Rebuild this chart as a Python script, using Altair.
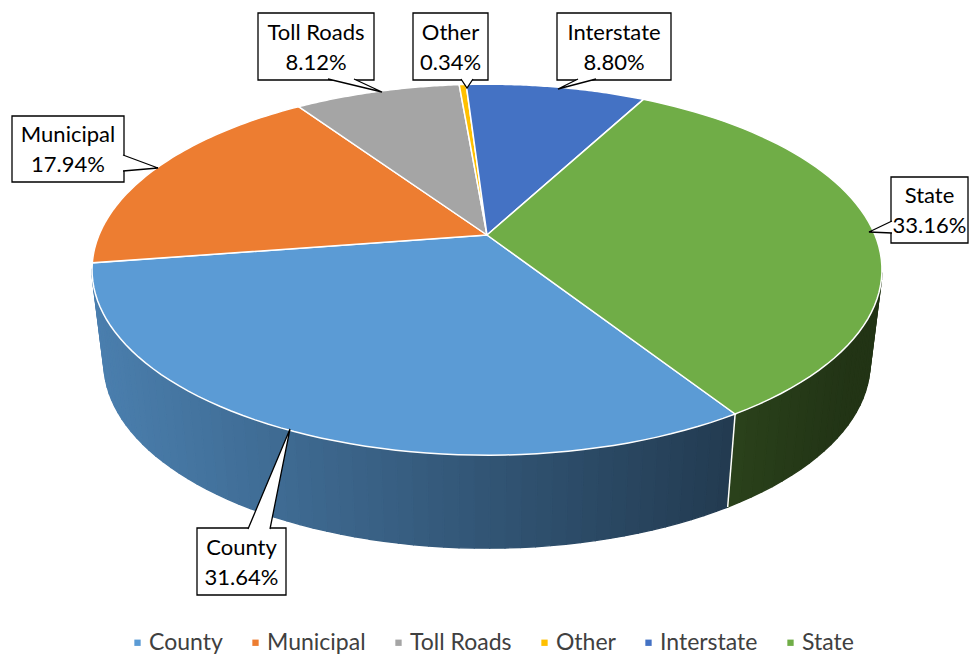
import math
import altair as alt
import pandas as pd

# ---- data ----
categories = ["County", "Municipal", "Toll Roads", "Other", "Interstate", "State"]
shares = [31.64, 17.94, 8.12, 0.34, 8.80, 33.16]

# ---- styling ----
colors = ["#5B9BD5", "#ED7D31", "#A5A5A5", "#FFC000", "#4472C4", "#70AD47"]
FONT = "Lato"

# ---- pie geometry (screen pixels) ----
CX, CY, RX, RY, PERSP = 487, 235, 388, 179, 0.187
DEPTH, BOTTOM_K = 93, 0.97
START_DEG = 147.4          # first slice starts here, clockwise from 12 o'clock
N = 60                     # arc subdivisions per slice

# callout layout: box (x0, x1, y0, y1), pointer base points and tip
callouts = {
    "Toll Roads": dict(box=(258, 374, 13, 80), p=[(328, 79), (382, 92), (354, 79)]),
    "Other":      dict(box=(413, 488, 13, 80), p=[(461, 79), (467, 88), (473, 79)]),
    "Interstate": dict(box=(557, 671, 13, 80), p=[(578, 79), (558, 89), (596, 79)]),
    "Municipal":  dict(box=(12, 124, 116, 182), p=[(123, 155), (158, 168), (123, 171)]),
    "State":      dict(box=(891, 968, 177, 243), p=[(892, 221), (869, 232), (892, 233)]),
    "County":     dict(box=(197, 286, 528, 595), p=[(248, 529), (290, 429), (270, 529)]),
}

total = sum(shares)
rows = []
cum = 0.0
for cat, val, col in zip(categories, shares, colors):
    a0 = math.radians(START_DEG) + 2 * math.pi * cum / total
    cum += val
    a1 = math.radians(START_DEG) + 2 * math.pi * cum / total
    rows.append(dict(cat=cat, share=val, a0=a0, a1=a1,
                     r=int(col[1:3], 16), g=int(col[3:5], 16), b=int(col[5:7], 16)))
df = pd.DataFrame(rows)

XS = alt.Scale(domain=[8, 969], nice=False, zero=False)
YS = alt.Scale(domain=[8, 656], nice=False, zero=False, reverse=True)
X = alt.X("x:Q", scale=XS, axis=None)
Y = alt.Y("y:Q", scale=YS, axis=None)

def px(t):
    return f"({CX}+{RX}*sin({t})/(1+{PERSP}*cos({t})))"

def py(t):
    return f"({CY}-{RY}*cos({t})/(1+{PERSP}*cos({t})))"

# ---- side wall (front part) ----
side = (
    alt.Chart(df)
    .transform_calculate(seg=f"sequence(0,{N})")
    .transform_flatten(["seg"])
    .transform_calculate(tm=f"datum.a0+(datum.a1-datum.a0)*(datum.seg+0.5)/{N}")
    .transform_filter("-cos(datum.tm) > 0.19")
    .transform_calculate(corner="[0,1,2,3,4]")
    .transform_flatten(["corner"])
    .transform_calculate(
        t=f"datum.a0+(datum.a1-datum.a0)*(datum.seg+((datum.corner==1||datum.corner==2)?1:0))/{N}"
    )
    .transform_calculate(xt=px("datum.t"), yt=py("datum.t"), xm=px("datum.tm"))
    .transform_calculate(
        x=f"(datum.corner<2||datum.corner==4)?datum.xt:{CX}+(datum.xt-{CX})*{BOTTOM_K}",
        y=f"(datum.corner<2||datum.corner==4)?datum.yt:datum.yt+{DEPTH}",
        f="clamp(0.81-0.00068*(datum.xm-100),0.3,0.95)",
        sid="datum.cat+'_'+datum.seg",
    )
    .transform_calculate(
        col="'rgb('+round(datum.r*datum.f)+','+round(datum.g*datum.f)+','+round(datum.b*datum.f)+')'"
    )
    .mark_line(strokeWidth=1.4, strokeJoin="round")
    .encode(
        x=X, y=Y,
        order=alt.Order("corner:Q"),
        detail="sid:N",
        fill=alt.Fill("col:N", scale=None, legend=None),
        stroke=alt.Stroke("col:N", scale=None, legend=None),
    )
)

# ---- white boundary lines on side wall ----
edges = (
    alt.Chart(df)
    .transform_filter("-cos(datum.a0) > 0.19")
    .transform_calculate(corner="[0,1]")
    .transform_flatten(["corner"])
    .transform_calculate(xt=px("datum.a0"), yt=py("datum.a0"))
    .transform_calculate(
        x=f"datum.corner<1?datum.xt:{CX}+(datum.xt-{CX})*{BOTTOM_K}",
        y=f"datum.corner<1?datum.yt:datum.yt+{DEPTH}",
    )
    .mark_line(stroke="white", strokeWidth=1.5)
    .encode(x=X, y=Y, order=alt.Order("corner:Q"), detail="cat:N")
)

# ---- top face ----
top = (
    alt.Chart(df)
    .transform_calculate(k=f"sequence(-1,{N + 2})")
    .transform_flatten(["k"])
    .transform_calculate(t=f"datum.a0+(datum.a1-datum.a0)*clamp(datum.k,0,{N})/{N}",
                         inner=f"datum.k<0||datum.k>{N}")
    .transform_calculate(
        x=f"datum.inner?{CX}:" + px("datum.t"),
        y=f"datum.inner?{CY}:" + py("datum.t"),
    )
    .mark_line(stroke="white", strokeWidth=1.5)
    .encode(
        x=X, y=Y,
        order=alt.Order("k:Q"),
        detail="cat:N",
        fill=alt.Fill(
            "cat:N",
            scale=alt.Scale(domain=categories, range=colors),
            sort=categories,
            legend=alt.Legend(
                orient="none", legendX=118, legendY=623, direction="horizontal",
                title=None, symbolType="square", symbolSize=40, symbolStrokeWidth=0,
                labelFont=FONT, labelFontSize=23, labelColor="#404040",
                columnPadding=21, labelOffset=0, padding=0,
            ),
        ),
    )
)

# ---- callouts ----
box_rows, ptr_rows = [], []
for cat, val in zip(categories, shares):
    c = callouts[cat]
    x0, x1, y0, y1 = c["box"]
    box_rows.append(dict(cat=cat, x=x0, x2=x1, y=y0, y2=y1,
                         tx=(x0 + x1) / 2, ty=(y0 + y1) / 2 - 14,
                         label=f"{cat}\n{val:.2f}%"))
    for i, (xx, yy) in enumerate(c["p"]):
        ptr_rows.append(dict(cat=cat, i=i, x=xx, y=yy))
boxes = pd.DataFrame(box_rows)
ptrs = pd.DataFrame(ptr_rows)

box_layer = alt.Chart(boxes).mark_rect(fill="white", stroke="black", strokeWidth=1.3).encode(
    x=X, x2="x2:Q", y=Y, y2="y2:Q"
)
ptr_layer = alt.Chart(ptrs).mark_line(fill="white", stroke="black", strokeWidth=1.3).encode(
    x=X, y=Y, order=alt.Order("i:Q"), detail="cat:N"
)
txt_layer = alt.Chart(boxes).mark_text(
    lineBreak="\n", font=FONT, fontSize=22, lineHeight=30, color="black",
    align="center", baseline="middle"
).encode(x=alt.X("tx:Q", scale=XS, axis=None),
         y=alt.Y("ty:Q", scale=YS, axis=None),
         text="label:N")

chart = (
    alt.layer(side, edges, top, box_layer, ptr_layer, txt_layer)
    .resolve_scale(fill="independent", stroke="independent")
    .properties(width=961, height=648, padding=0, autosize=alt.AutoSizeParams(type="none"))
    .configure_view(stroke=None)
)

chart.save("out.html", embed_options={"renderer": "svg", "actions": False})
